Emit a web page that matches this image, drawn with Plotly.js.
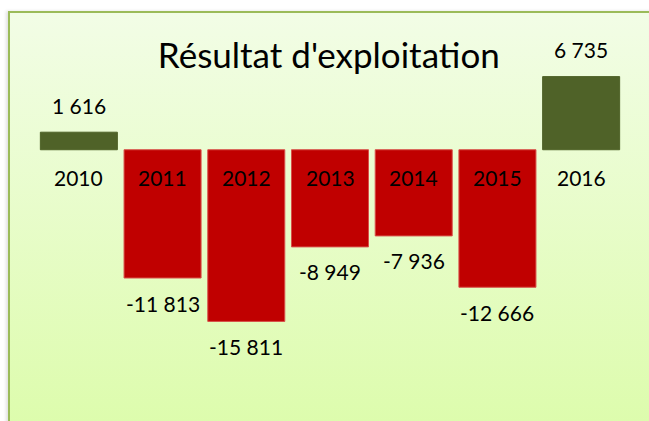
<!DOCTYPE html>
<html>
<head>
<meta charset="utf-8">
<script src="https://cdn.plot.ly/plotly-3.0.1.min.js"></script>
<style>
  html, body { margin: 0; padding: 0; background: #ffffff; width: 649px; height: 421px; overflow: hidden; }
  #frame { position: absolute; left: 8px; top: 11px; width: 660px; height: 430px;
           border-left: 2px solid #9bbb59; border-top: 2px solid #9bbb59;
           background: linear-gradient(to bottom, #f2fde6 0%, #dcfcaa 100%);
           box-shadow: -2px 0 3px rgba(0,0,0,0.12); }
  #chart { position: absolute; left: 0; top: 0; width: 649px; height: 421px; }
</style>
</head>
<body>
<div id="frame"></div>
<div id="chart"></div>
<script>
const years = ['2010', '2011', '2012', '2013', '2014', '2015', '2016'];
const values = [1616, -11813, -15811, -8949, -7936, -12666, 6735];
const chartTitle = "Résultat d'exploitation";

const posColor = '#4f6228';
const negColor = '#c00000';

function fmt(v) {
  const s = Math.abs(v).toString().replace(/\B(?=(\d{3})+(?!\d))/g, ' ');
  return (v < 0 ? '-' : '') + s;
}

const font = 'Lato, Liberation Sans, Arial, sans-serif';

const trace = {
  type: 'bar',
  x: years,
  y: values,
  marker: {
    color: values.map(v => v >= 0 ? posColor : negColor),
    line: { color: values.map(v => v >= 0 ? posColor : '#d8504a'), width: 1 }
  },
  hoverinfo: 'skip'
};

const annotations = [];
years.forEach((yr, i) => {
  annotations.push({
    x: i, y: 0, xref: 'x', yref: 'y', text: yr, showarrow: false,
    yanchor: 'middle', yshift: -28,
    font: { family: font, size: 21, color: '#000000' }
  });
  const v = values[i];
  annotations.push({
    x: i, y: v, xref: 'x', yref: 'y', text: fmt(v), showarrow: false,
    yanchor: 'middle', yshift: v >= 0 ? 27 : -25,
    font: { family: font, size: 21, color: '#000000' }
  });
});

const layout = {
  width: 649, height: 421,
  margin: { l: 37, r: 26, t: 20, b: 21 },
  paper_bgcolor: 'rgba(0,0,0,0)',
  plot_bgcolor: 'rgba(0,0,0,0)',
  showlegend: false,
  bargap: 0.08,
  title: {
    text: chartTitle,
    x: 0.498, xref: 'paper', xanchor: 'center',
    y: 1 - 56 / 421, yref: 'container', yanchor: 'middle',
    font: { family: font, size: 35, color: '#000000' }
  },
  xaxis: {
    type: 'category', range: [-0.5, 6.5],
    showticklabels: false, showgrid: false, zeroline: false, showline: false, ticks: ''
  },
  yaxis: {
    range: [-23050, 11950],
    showticklabels: false, showgrid: false, zeroline: false, showline: false, ticks: ''
  },
  annotations: annotations
};

Plotly.newPlot('chart', [trace], layout, { staticPlot: true, displayModeBar: false });
</script>
</body>
</html>
